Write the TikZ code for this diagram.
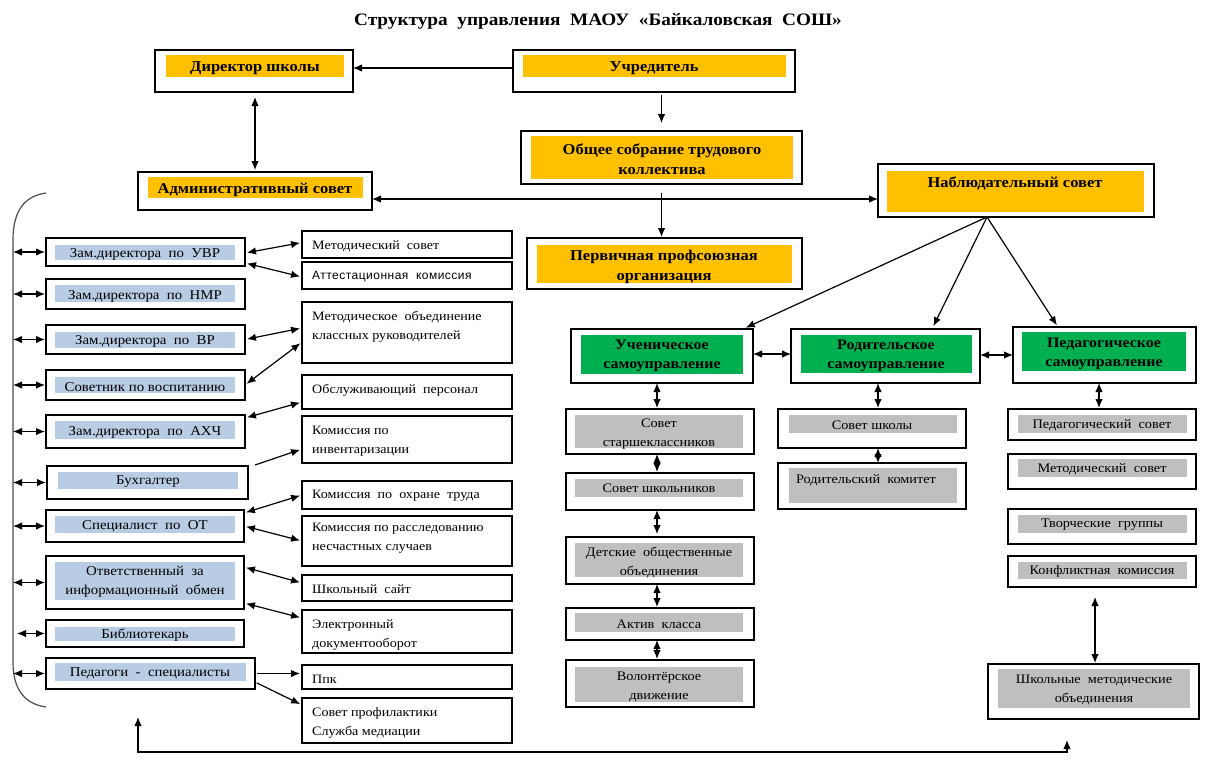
\documentclass[tikz,border=0pt]{standalone}
\usepackage{fontspec}
\setmainfont{Liberation Serif}[FakeStretch=1.1]
\newfontfamily\sansA{Liberation Sans}[LetterSpace=4]
\usetikzlibrary{arrows.meta}
\definecolor{cOr}{HTML}{FFC000}
\definecolor{cGr}{HTML}{00B050}
\definecolor{cBl}{HTML}{B8CCE4}
\definecolor{cGy}{HTML}{BFBFBF}
\tikzset{
 outer/.style={draw=black, line width=1.5pt, inner sep=0pt, outer sep=0pt},
 arr/.style={-{Latex[length=9pt,width=7.5pt]}, line width=1.2pt},
 darr/.style={{Latex[length=9pt,width=7.5pt]}-{Latex[length=9pt,width=7.5pt]}, line width=1.2pt},
 sh/.style={shorten <=2pt, shorten >=2pt},
 tb/.style={font=\fontsize{15}{20.5}\selectfont\bfseries, align=center, inner sep=0pt, yshift=-2pt},
 tg/.style={font=\fontsize{14.5}{19.5}\selectfont\bfseries, align=center, inner sep=0pt, yshift=-2pt},
 tl/.style={font=\fontsize{13.5}{19}\selectfont, align=center, inner sep=0pt, yshift=-2pt},
 tw/.style={font=\fontsize{12.8}{19.5}\selectfont, align=left, anchor=west, inner sep=0pt, yshift=-2pt},
 ty/.style={font=\fontsize{13}{19}\selectfont, align=center, inner sep=0pt, yshift=-2pt},
}
\newcommand\bxx[5]{\pgfmathsetmacro\bxw{#4-#2}\pgfmathsetmacro\bxh{#5-#3}%
 \node[outer, minimum width=\bxw pt, minimum height=\bxh pt, anchor=north west] (#1) at (#2,#3) {};}
\newcommand\fll[5]{\fill[#1] (#2,#3) rectangle (#4,#5);}
\begin{document}
\begin{tikzpicture}[x=1pt,y=-1pt]
\fill[white] (0,0) rectangle (1212,769);
\useasboundingbox (0,0) rectangle (1212,769);

\node[font=\fontsize{17.5}{22}\selectfont\bfseries, inner sep=0pt] (title) at (598,21) {Структура\ \ управления\ \ МАОУ\ \ «Байкаловская\ \ СОШ»};

% top
\fll{cOr}{166}{55}{344}{77}\bxx{dir}{155}{50}{353}{92}
\node[tb] (dir-t) at (255,66) {Директор школы};
\fll{cOr}{523}{55}{786}{77}\bxx{ucr}{513}{50}{795}{92}
\node[tb] (ucr-t) at (654,66) {Учредитель};
\fll{cOr}{531}{136}{793}{179}\bxx{obs}{521}{131}{802}{184}
\node[tb] (obs-t) at (662,157) {Общее собрание трудового\\коллектива};
\fll{cOr}{148}{177}{363}{198}\bxx{adm}{138}{172}{372}{210}
\node[tb] (adm-t) at (255,188) {Административный совет};
\fll{cOr}{887}{171}{1144}{212}\bxx{nab}{878}{164}{1154}{217}
\node[tb] (nab-t) at (1015,181) {Наблюдательный совет};
\fll{cOr}{537}{245}{792}{283}\bxx{prf}{527}{238}{802}{289}
\node[tb] (prf-t) at (664,265) {Первичная профсоюзная\\организация};

% left column
\fll{cBl}{55}{245}{235}{260}\bxx{uvr}{46}{238}{245}{266}\node[tl] (uvr-t) at (145,252) {Зам.директора~ по~ УВР};
\fll{cBl}{55}{285}{235}{302}\bxx{nmr}{46}{279}{245}{309}\node[tl] (nmr-t) at (145,294) {Зам.директора~ по~ НМР};
\fll{cBl}{55}{332}{235}{348}\bxx{vr}{46}{325}{245}{354}\node[tl] (vr-t) at (145,339) {Зам.директора~ по~ ВР};
\fll{cBl}{55}{377}{235}{393}\bxx{sov}{46}{370}{245}{400}\node[tl] (sov-t) at (145,385) {Советник по воспитанию};
\fll{cBl}{55}{421}{235}{439}\bxx{ahc}{46}{415}{245}{448}\node[tl] (ahc-t) at (145,430) {Зам.директора~ по~ АХЧ};
\fll{cBl}{58}{472}{238}{489}\bxx{buh}{47}{466}{248}{499}\node[tl] (buh-t) at (148,480) {Бухгалтер};
\fll{cBl}{55}{516}{235}{533}\bxx{ot}{46}{510}{244}{542}\node[tl] (ot-t) at (145,524) {Специалист~ по~ ОТ};
\fll{cBl}{55}{562}{235}{600}\bxx{otv}{46}{556}{244}{609}\node[tl] (otv-t) at (145,580) {Ответственный~ за\\информационный~ обмен};
\fll{cBl}{55}{627}{235}{641}\bxx{bib}{46}{620}{244}{647}\node[tl] (bib-t) at (145,633) {Библиотекарь};
\fll{cBl}{55}{663}{246}{681}\bxx{pds}{46}{658}{255}{689}\node[tl] (pds-t) at (150,671) {Педагоги~ -~ специалисты};

% right white column
\bxx{ms}{302}{231}{512}{258}\node[tw] (ms-t) at (312,244) {Методический~ совет};
\bxx{att}{302}{262}{512}{289}\node[tw, font=\sansA\fontsize{12}{18}\selectfont] (att-t) at (312,275) {Аттестационная~ комиссия};
\bxx{mo}{302}{302}{512}{363}\node[tw] (mo-t) at (312,325) {Методическое~ объединение\\классных руководителей};
\bxx{obl}{302}{375}{512}{409}\node[tw] (obl-t) at (312,388) {Обслуживающий~ персонал};
\bxx{inv}{302}{416}{512}{463}\node[tw] (inv-t) at (312,439) {Комиссия по\\инвентаризации};
\bxx{ohr}{302}{481}{512}{509}\node[tw] (ohr-t) at (312,494) {Комиссия~ по~ охране~ труда};
\bxx{rsl}{302}{516}{512}{566}\node[tw] (rsl-t) at (312,536) {Комиссия по расследованию\\несчастных случаев};
\bxx{sit}{302}{575}{512}{601}\node[tw] (sit-t) at (312,587) {Школьный~ сайт};
\bxx{edo}{302}{610}{512}{653}\node[tw] (edo-t) at (312,633) {Электронный\\документооборот};
\bxx{ppk}{302}{665}{512}{689}\node[tw] (ppk-t) at (312,677) {Ппк};
\bxx{spr}{302}{698}{512}{743}\node[tw] (spr-t) at (312,721) {Совет профилактики\\Служба медиации};

% middle column
\fll{cGr}{581}{335}{743}{374}\bxx{uch}{571}{329}{753}{383}\node[tg] (uch-t) at (662,354) {Ученическое\\самоуправление};
\fll{cGy}{575}{415}{743}{448}\bxx{sst}{566}{409}{754}{454}\node[ty] (sst-t) at (659,432) {Совет\\старшеклассников};
\fll{cGy}{575}{479}{743}{497}\bxx{ssh}{566}{473}{754}{510}\node[ty] (ssh-t) at (659,486) {Совет школьников};
\fll{cGy}{575}{543}{743}{577}\bxx{det}{566}{537}{754}{584}\node[ty] (det-t) at (659,561) {Детские~ общественные\\объединения};
\fll{cGy}{575}{613}{743}{632}\bxx{akt}{566}{608}{754}{640}\node[ty] (akt-t) at (659,622) {Актив~ класса};
\fll{cGy}{575}{667}{743}{702}\bxx{vol}{566}{660}{754}{707}\node[ty] (vol-t) at (659,685) {Волонтёрское\\движение};

\fll{cGr}{801}{335}{972}{373}\bxx{rod}{791}{329}{980}{383}\node[tg] (rod-t) at (886,354) {Родительское\\самоуправление};
\fll{cGy}{789}{415}{957}{433}\bxx{sch}{778}{409}{966}{448}\node[ty] (sch-t) at (872,423) {Совет школы};
\fll{cGy}{789}{468}{957}{503}\bxx{rk}{778}{463}{966}{509}\node[ty] (rk-t) at (866,478) {Родительский~ комитет};

\fll{cGr}{1022}{332}{1186}{371}\bxx{ped}{1013}{327}{1196}{383}\node[tg] (ped-t) at (1104,352) {Педагогическое\\самоуправление};
\fll{cGy}{1018}{415}{1187}{433}\bxx{pst}{1008}{409}{1196}{440}\node[ty] (pst-t) at (1102,423) {Педагогический~ совет};
\fll{cGy}{1018}{459}{1187}{477}\bxx{msv}{1008}{454}{1196}{489}\node[ty] (msv-t) at (1102,467) {Методический~ совет};
\fll{cGy}{1018}{515}{1187}{533}\bxx{tvg}{1008}{509}{1196}{544}\node[ty] (tvg-t) at (1102,523) {Творческие~ группы};
\fll{cGy}{1018}{562}{1187}{579}\bxx{knf}{1008}{556}{1196}{587}\node[ty] (knf-t) at (1102,569) {Конфликтная~ комиссия};
\fll{cGy}{998}{669}{1190}{708}\bxx{smo}{988}{664}{1199}{719}\node[ty] (smo-t) at (1094,688) {Школьные~ методические\\объединения};

% connectors top
\draw[arr] ([yshift=3pt]ucr.west) -- ([yshift=3pt]ucr.west -| dir.east);
\draw[arr, shorten <=3pt, shorten >=8pt] (ucr.south -| obs.north) -- (obs.north);
\draw[darr, shorten <=5pt, shorten >=2pt] (dir.south -| adm.north) -- (adm.north);
\draw[darr] ([yshift=-8pt]adm.east) -- ([yshift=-8pt]adm.east -| nab.west);
\draw[arr, shorten <=9pt, shorten >=1pt] (obs.south) -- (obs.south |- prf.north);
\coordinate (nbs) at ([xshift=-29pt]nab.south);
\draw[arr, shorten >=3pt] (nbs) -- ([xshift=-10pt]uch.north east);
\draw[arr, shorten >=3pt] (nbs) -- ([xshift=-48pt]rod.north east);
\draw[arr, shorten >=2pt] (nbs) -- ([xshift=45pt]ped.north west);

% bracket
\draw[line width=1.2pt, black!70] (46,193) .. controls (25,196) and (13,210) .. (13,240) -- (13,662) .. controls (13,690) and (25,704) .. (46,707);
\coordinate (brk) at (13,400);
\coordinate (brk2) at (17,400);
\foreach \n in {uvr,nmr,vr,sov,ahc,buh,ot,otv,pds} {\draw[darr, shorten >=1pt] (\n.west -| brk) -- (\n.west);}
\draw[darr, shorten >=1pt] (bib.west -| brk2) -- (bib.west);

% left to right
\draw[darr,sh] ([yshift=-1pt]uvr.east) -- ([yshift=2pt]ms.west);
\draw[darr,sh] ([yshift=-11pt]uvr.east) -- ([yshift=-1.5pt]att.west);
\draw[darr,sh] (vr.east) -- ([yshift=4.5pt]mo.west);
\draw[darr,sh] (sov.east) -- ([yshift=-9.5pt]mo.west);
\draw[darr,sh] ([yshift=13.5pt]ahc.east) -- ([yshift=-10pt]obl.west);
\draw[arr,shorten >=2pt] ([xshift=7pt,yshift=1pt]buh.north east) -- ([yshift=-9.5pt]inv.west);
\draw[darr,sh] ([yshift=13pt]ot.east) -- (ohr.west);
\draw[darr,sh] (ot.east) -- (rsl.west);
\draw[darr,sh] ([yshift=15.5pt]otv.east) -- ([yshift=5pt]sit.west);
\draw[darr,sh] ([yshift=-20.5pt]otv.east) -- ([yshift=13.5pt]edo.west);
\draw[arr,sh] (pds.east) -- (pds.east -| ppk.west);
\draw[arr,sh] ([yshift=-8.5pt]pds.east) -- ([yshift=15.5pt]spr.west);

% middle verticals
\coordinate (cx1) at (657,0);
\coordinate (cx2) at (878,0);
\coordinate (cx3) at (1099,0);
\coordinate (cx4) at (1095,0);
\draw[darr, shorten >=1pt] (uch.south -| cx1) -- (sst.north -| cx1);
\draw[darr, shorten >=1pt] (sst.south -| cx1) -- (ssh.north -| cx1);
\draw[darr, shorten >=3pt] (ssh.south -| cx1) -- (det.north -| cx1);
\draw[darr, shorten >=1pt] (det.south -| cx1) -- (akt.north -| cx1);
\draw[darr, shorten >=1pt] (akt.south -| cx1) -- (vol.north -| cx1);
\draw[darr, shorten >=1pt] (rod.south -| cx2) -- (sch.north -| cx2);
\draw[darr] (sch.south -| cx2) -- (rk.north -| cx2);
\draw[darr, shorten >=1pt] (ped.south -| cx3) -- (pst.north -| cx3);
\draw[darr, shorten <=10pt, shorten >=1pt] (knf.south -| cx4) -- (smo.north -| cx4);
\draw[darr] ([yshift=2pt]uch.east) -- ([yshift=2pt]uch.east -| rod.west);
\draw[darr] ([yshift=1pt]rod.east) -- ([yshift=1pt]rod.east -| ped.west);

% bottom
\coordinate (bl) at (138,717);
\coordinate (br) at ([xshift=-26.5pt,yshift=-21pt]smo.south);
\coordinate (bot) at (600,752);
\draw[darr] (bl) |- (bot) -| (br);
\end{tikzpicture}
\end{document}
